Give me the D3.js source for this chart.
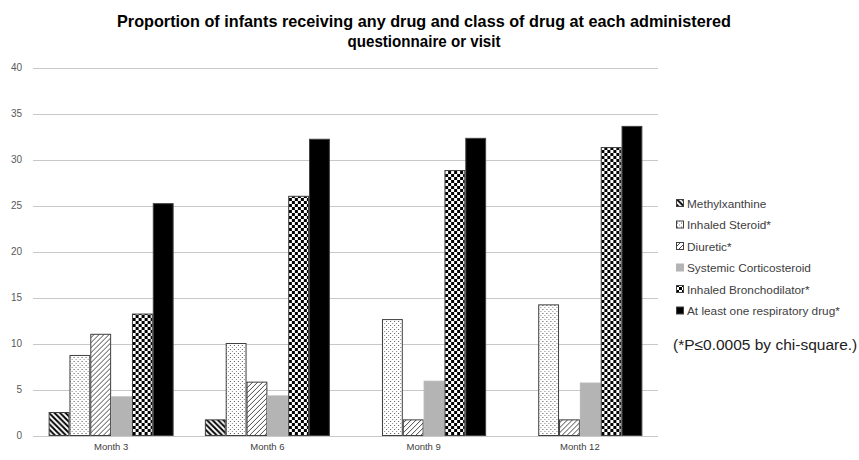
<!DOCTYPE html>
<html><head><meta charset="utf-8">
<script src="https://cdn.jsdelivr.net/npm/d3@7"></script>
<style>body{margin:0;background:#fff}svg{display:block}</style>
</head><body>
<svg id="chart" width="859" height="460"></svg>
<script>
const categories = ["Month 3", "Month 6", "Month 9", "Month 12"];
const seriesNames = ["Methylxanthine", "Inhaled Steroid*", "Diuretic*", "Systemic Corticosteroid", "Inhaled Bronchodilator*", "At least one respiratory drug*"];
const methylxanthine = [2.5, 1.7, 0, 0];
const inhaledSteroid = [8.7, 10.0, 12.6, 14.2];
const diuretic = [11.0, 5.8, 1.7, 1.7];
const systemicCorticosteroid = [4.2, 4.3, 5.9, 5.7];
const inhaledBronchodilator = [13.2, 26.0, 28.8, 31.3];
const atLeastOne = [25.2, 32.2, 32.3, 33.6];
const yTicks = [0, 5, 10, 15, 20, 25, 30, 35, 40];
const titleLines = ["Proportion of infants receiving any drug and class of drug at each administered", "questionnaire or visit"];
const footnote = "(*P\u22640.0005 by chi-square.)";

const seriesValues = [methylxanthine, inhaledSteroid, diuretic, systemicCorticosteroid, inhaledBronchodilator, atLeastOne];

const svg = d3.select("#chart");
const defs = svg.append("defs");

// patterns
const p1 = defs.append("pattern").attr("id","pat0").attr("patternUnits","userSpaceOnUse").attr("width",5.5).attr("height",5.5);
p1.append("rect").attr("width",5.5).attr("height",5.5).attr("fill","#fff");
p1.append("path").attr("d","M-1,-1 L6.5,6.5 M-1,4.5 L1,6.5 M4.5,-1 L6.5,1").attr("stroke","#000").attr("stroke-width",1.9);

const p2 = defs.append("pattern").attr("id","pat1").attr("patternUnits","userSpaceOnUse").attr("width",4).attr("height",4);
p2.append("rect").attr("width",4).attr("height",4).attr("fill","#fff");
p2.append("rect").attr("x",1).attr("y",1).attr("width",1).attr("height",1).attr("fill","#555");
p2.append("rect").attr("x",3).attr("y",3).attr("width",1).attr("height",1).attr("fill","#888");

const p3 = defs.append("pattern").attr("id","pat2").attr("patternUnits","userSpaceOnUse").attr("width",5).attr("height",5);
p3.append("rect").attr("width",5).attr("height",5).attr("fill","#fff");
p3.append("path").attr("d","M-1,6 L6,-1 M-1,1 L1,-1 M4,6 L6,4").attr("stroke","#333").attr("stroke-width",0.9);

const p5 = defs.append("pattern").attr("id","pat4").attr("patternUnits","userSpaceOnUse").attr("width",6).attr("height",6);
p5.append("rect").attr("width",6).attr("height",6).attr("fill","#fff");
p5.append("rect").attr("x",0).attr("y",0).attr("width",3).attr("height",3).attr("fill","#000");
p5.append("rect").attr("x",3).attr("y",3).attr("width",3).attr("height",3).attr("fill","#000");

const fills = ["url(#pat0)","url(#pat1)","url(#pat2)","#b4b4b4","url(#pat4)","#000"];
const strokes = ["#404040","#404040","#404040","#b4b4b4","#404040","#404040"];

const y = d3.scaleLinear().domain([0,40]).range([435.5, 67.5]);
const x0 = d3.scaleBand().domain(categories).range([33, 658]).paddingInner(0.2).paddingOuter(0.1);
const x1 = d3.scaleBand().domain(d3.range(seriesNames.length)).range([0, x0.bandwidth()]);

// gridlines
svg.append("g").selectAll("line").data(yTicks).join("line")
  .attr("x1",33).attr("x2",658)
  .attr("y1",d=>Math.round(y(d))+0.5).attr("y2",d=>Math.round(y(d))+0.5)
  .attr("stroke","#c8c8c8").attr("stroke-width",1);

// y axis labels
const yAxis = d3.axisLeft(y).tickValues(yTicks).tickSize(0).tickPadding(0);
const gy = svg.append("g").attr("transform","translate(22,0)").call(yAxis);
gy.select(".domain").remove();
gy.selectAll("text").attr("fill","#595959").style("font-family","Liberation Sans, Arial, sans-serif").style("font-size","10px");

// x axis
const xAxis = d3.axisBottom(x0).tickSize(0).tickPadding(7);
const gx = svg.append("g").attr("transform","translate(0,436)").call(xAxis);
gx.select(".domain").remove();
gx.selectAll("text").attr("fill","#404040").style("font-family","Liberation Sans, Arial, sans-serif").style("font-size","9.5px");

// bars
const groups = svg.append("g").selectAll("g").data(categories).join("g")
  .attr("transform",d=>`translate(${x0(d)},0)`);
groups.selectAll("rect").data((d,i)=>seriesValues.map((s,j)=>({j, v:s[i]})).filter(e=>e.v>0)).join("rect")
  .attr("x",d=>x1(d.j)+0.5)
  .attr("width",x1.bandwidth()-1)
  .attr("y",d=>y(d.v))
  .attr("height",d=>y(0)-y(d.v))
  .attr("fill",d=>fills[d.j])
  .attr("stroke",d=>strokes[d.j])
  .attr("stroke-width",1);

// title
const titleLens = [614, 153];
svg.append("g").selectAll("text").data(titleLines).join("text")
  .attr("x",424).attr("y",(d,i)=>27+i*20)
  .attr("text-anchor","middle")
  .attr("textLength",(d,i)=>titleLens[i]).attr("lengthAdjust","spacingAndGlyphs")
  .style("font-family","Liberation Sans, Arial, sans-serif")
  .style("font-weight","bold").style("font-size","17px").attr("fill","#000")
  .text(d=>d);

// legend
const legY = [204, 225.5, 247, 268.5, 290, 311.5];
const leg = svg.append("g").selectAll("g").data(seriesNames).join("g")
  .attr("transform",(d,i)=>`translate(676,${legY[i]})`);
leg.append("rect").attr("x",0.5).attr("y",-4.5).attr("width",7).attr("height",7)
  .attr("fill",(d,i)=>fills[i]).attr("stroke",(d,i)=>i===3?"#b4b4b4":"#404040").attr("stroke-width",1);
leg.append("text").attr("x",11).attr("y",3.8)
  .style("font-family","Liberation Sans, Arial, sans-serif").style("font-size","11.8px").attr("fill","#404040")
  .text(d=>d);

svg.append("text").attr("x",673).attr("y",350)
  .style("font-family","Liberation Sans, Arial, sans-serif").style("font-size","15.5px").attr("fill","#222")
  .text(footnote);
</script>
</body></html>
